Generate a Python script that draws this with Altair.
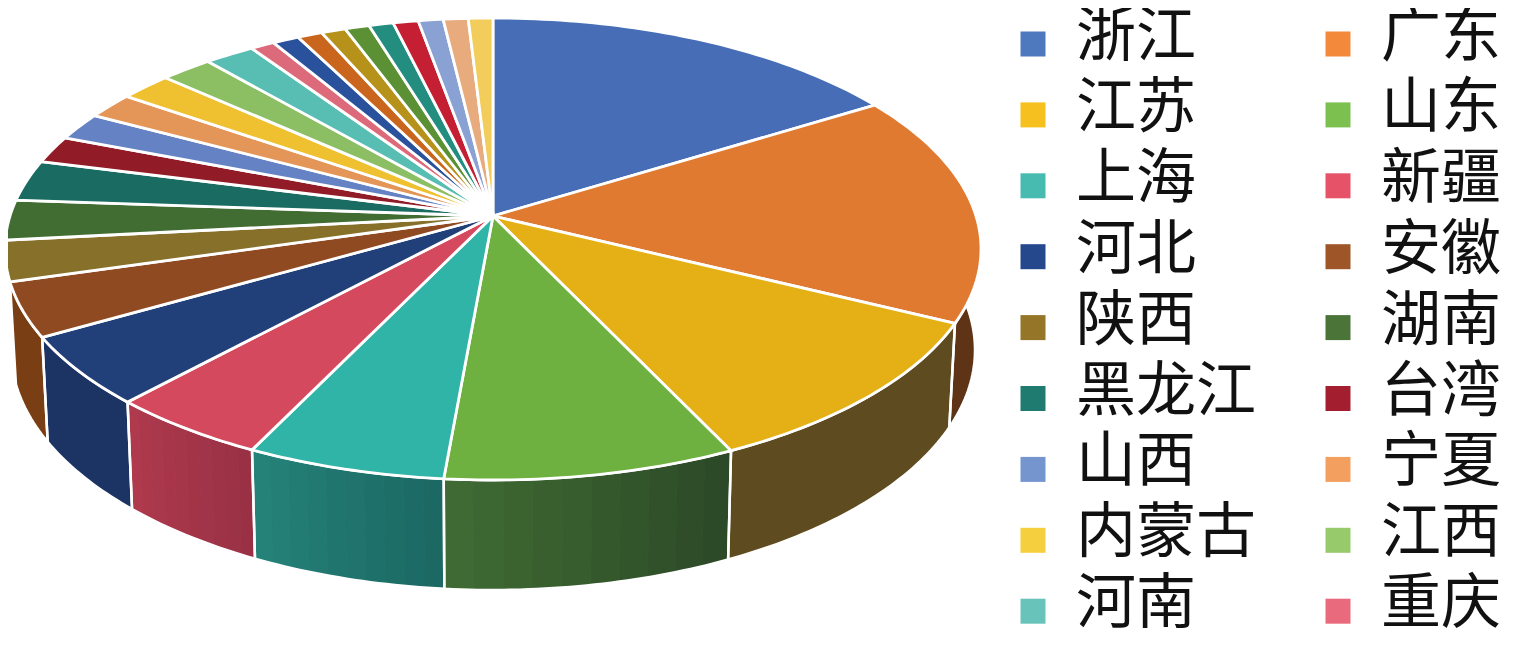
import math
import altair as alt

# Slice shares (percent). Only the first 18 are named in the reference legend.
names = ["浙江", "广东", "江苏", "山东", "上海", "新疆", "河北", "安徽", "陕西", "湖南", "黑龙江", "台湾",
         "山西", "宁夏", "内蒙古", "江西", "河南", "重庆",
         "未标注1", "未标注2", "未标注3", "未标注4", "未标注5", "未标注6", "未标注7", "未标注8", "未标注9"]
shares = [14.30, 15.92, 11.67, 9.72, 6.61, 5.25, 5.28, 3.97, 2.89, 2.78, 2.78, 1.81,
          1.81, 1.69, 1.81, 1.78, 1.69, 0.81,
          0.89, 0.83, 0.81, 0.81, 0.81, 0.83, 0.82, 0.82, 0.81]
top_colors = ["#466db5", "#e07a30", "#e5b015", "#6eb140", "#31b4a8", "#d4495d", "#213f78", "#8f4a22", "#87702a",
              "#426d32", "#1a6b62", "#911b27", "#6583c4", "#e49558", "#efc131", "#8cbe63", "#58bdb3", "#dd6a7a",
              "#2a519b", "#c9651c", "#b7921a", "#5b9134", "#238d80", "#c41f32", "#8aa1d3", "#e8ab7e", "#f2cd5c"]
legend_colors = ["#4f79bf", "#f2893b", "#f6c01f", "#7cc04f", "#47bbb0", "#e65268", "#25478c", "#9e5527", "#957527",
                 "#4b7538", "#1f7a70", "#a31f30", "#7595cf", "#f39f60", "#f5cf3d", "#97ca6b", "#68c4bb", "#e86a7c"]
# Side wall shading (start, end of each visible wall, clockwise)
wall_start = {"广东": "#5e3316", "江苏": "#5f4b20", "山东": "#2b4826", "上海": "#1b6762", "新疆": "#983044",
              "河北": "#1c3464", "安徽": "#7a3e14"}
wall_end = {"广东": "#5e3316", "江苏": "#5f4b20", "山东": "#406c34", "上海": "#25837a", "新疆": "#b03a4e",
            "河北": "#1c3464", "安徽": "#7a3e14"}

# Geometry of the tilted disc, in page pixels (the page margin is 8px)
M = 8
TOP = dict(cx=493, cy=249, rx=488, ry=231)
BOT = dict(cx=493, cy=350, rx=482, ry=240)
APEX = (493, 216)


def rim(e, deg):
    t = math.radians(deg)
    return [e["cx"] + e["rx"] * math.sin(t) - M, e["cy"] - e["ry"] * math.cos(t) - M]


def arc(e, a, b, n=None):
    n = n or max(2, int(abs(b - a)) + 2)
    return [rim(e, a + (b - a) * i / (n - 1)) for i in range(n)]


def feature(ring, **props):
    ring = ring + [ring[0]]
    return {"type": "Feature", "properties": props,
            "geometry": {"type": "Polygon", "coordinates": [ring]}}


def mix(c1, c2, f):
    a = [int(c1[i:i + 2], 16) for i in (1, 3, 5)]
    b = [int(c2[i:i + 2], 16) for i in (1, 3, 5)]
    return "#" + "".join(f"{round(x + (y - x) * f):02x}" for x, y in zip(a, b))


total = sum(shares)
edges = [0.0]
for s in shares:
    edges.append(edges[-1] + s / total * 360)

tops, strips, outlines = [], [], []
apex = [APEX[0] - M, APEX[1] - M]
for i, name in enumerate(names):
    a, b = edges[i], edges[i + 1]
    tops.append(feature([apex] + arc(TOP, a, b), name=name, fill=top_colors[i]))
    if name in wall_start:
        a2 = max(a, 78)
        n = 1 if wall_start[name] == wall_end[name] else 10
        for k in range(n):
            p = a2 + (b - a2) * k / n
            q = a2 + (b - a2) * (k + 1) / n
            c = mix(wall_start[name], wall_end[name], (k + .5) / n)
            strips.append(feature(arc(TOP, p, q) + arc(BOT, q, p), name=name, fill=c))
        outlines.append(feature(arc(TOP, a2, b) + arc(BOT, b, a2), name=name))

proj = dict(type="identity", scale=1, translate=[0, 0])
W, H = 1497, 628

legend_names = names[:18]
legend_layer = alt.Chart(alt.Data(values=tops[:18])).mark_geoshape(stroke="white", strokeWidth=2.8).encode(
    fill=alt.Fill("properties.name:N",
                  scale=alt.Scale(domain=legend_names, range=legend_colors),
                  sort=legend_names,
                  legend=alt.Legend(
                      title=None, orient="none", legendX=1003 - M, legendY=8 - M,
                      columns=2, direction="horizontal",
                      symbolType="M-1,-0.52H1V1.48H-1Z", symbolSize=625, symbolStrokeWidth=0,
                      symbolOpacity=1,
                      labelFont="Noto Sans CJK SC", labelFontSize=60, labelColor="#111111",
                      labelOffset=13, labelLimit=400, columnPadding=52, rowPadding=10.9,
                  ))
).project(**proj)

strip_layer = alt.Chart(alt.Data(values=strips)).mark_geoshape(strokeWidth=1).encode(
    fill=alt.Fill("properties.fill:N", scale=None),
    stroke=alt.Stroke("properties.fill:N", scale=None),
).project(**proj)

outline_layer = alt.Chart(alt.Data(values=outlines)).mark_geoshape(
    filled=False, stroke="white", strokeWidth=2.5).project(**proj)

top_layer = alt.Chart(alt.Data(values=tops)).mark_geoshape(stroke="white", strokeWidth=2.8).encode(
    fill=alt.Fill("properties.fill:N", scale=None),
).project(**proj)

chart = (legend_layer + strip_layer + outline_layer + top_layer).properties(
    width=W, height=H, padding=0, autosize=alt.AutoSizeParams(type="none"),
    background="white",
).configure_view(stroke=None)

chart.save("out.html", embed_options={"renderer": "svg", "actions": False})
